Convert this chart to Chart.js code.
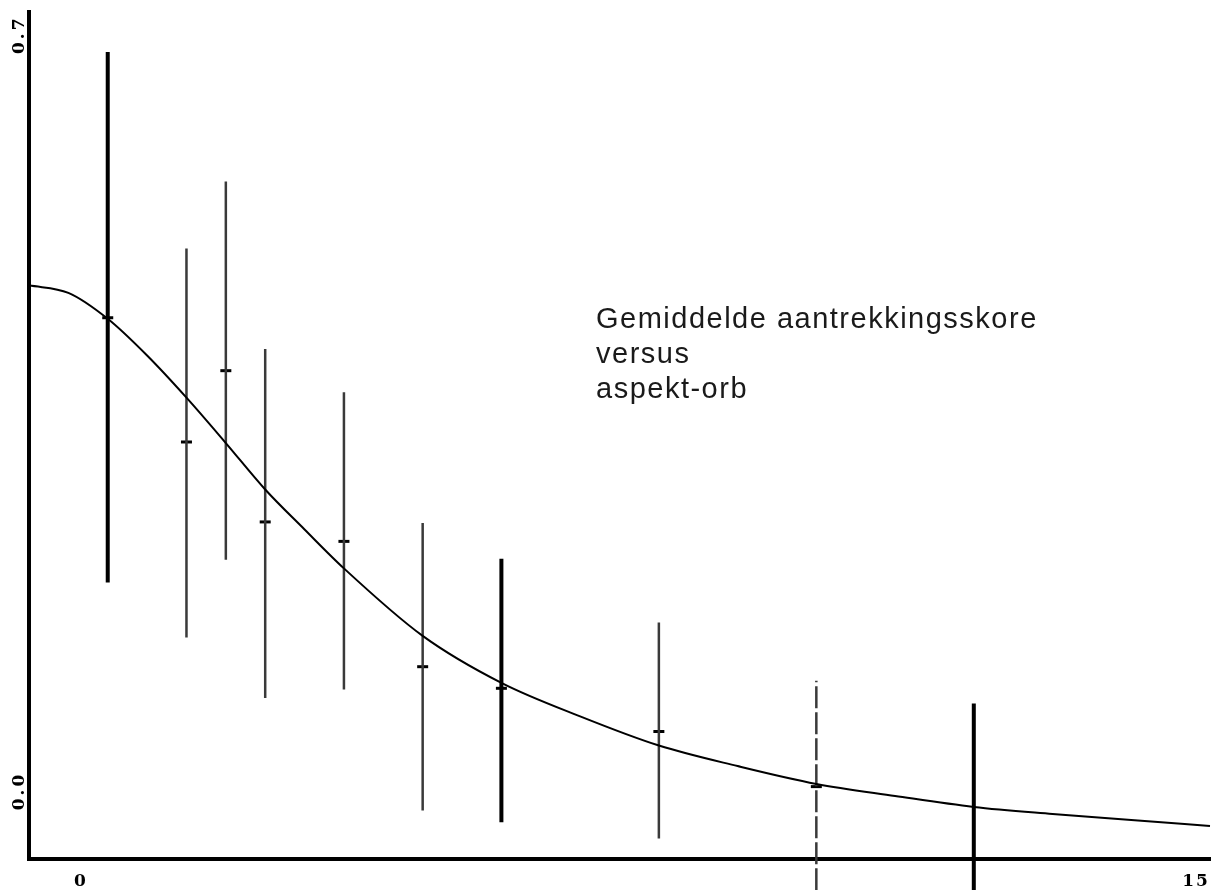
<!DOCTYPE html>
<html>
<head>
<meta charset="utf-8">
<script src="https://cdn.jsdelivr.net/npm/chart.js@4/dist/chart.umd.min.js"></script>
<style>
  html, body { margin: 0; padding: 0; background: #fff; overflow: hidden; }
  #wrap { width: 1212px; height: 890px; position: absolute; left: 0; top: 0; }
</style>
</head>
<body>
<div id="wrap"><canvas id="chart"></canvas></div>
<script>
// Mean attraction score vs aspect orb

const xTickValues = [0, 15];
const xTickLabels = ["0", "15"];
const yTickValues = [0.7, 0.0];
const yTickLabels = ["0.7", "0.0"];

// fitted curve
const curveX = [0, 0.5, 1, 1.5, 2, 2.5, 3, 3.5, 4, 5, 6, 7, 8, 9, 10, 11, 12, 13, 14, 15];
const curveY = [0.468, 0.461, 0.437, 0.403, 0.364, 0.322, 0.279, 0.242, 0.206, 0.1435, 0.100,
  0.069, 0.042, 0.023, 0.0065, -0.0046, -0.0148, -0.0213, -0.0269, -0.0324];

// error bars
const barX = [1, 2, 2.5, 3, 4, 5, 6, 8, 10, 12];
const barLow = [0.193, 0.142, 0.214, 0.086, 0.094, -0.018, -0.029, -0.044, -0.092, -0.092];
const barHigh = [0.684, 0.502, 0.564, 0.409, 0.369, 0.248, 0.215, 0.156, 0.102, 0.081];
const barMean = [0.438, 0.323, 0.389, 0.249, 0.231, 0.115, 0.095, 0.055, 0.004, null];

const title = ["Gemiddelde aantrekkingsskore", "versus", "aspekt-orb"];

// which bars are drawn heavy / broken
const thickAt = [1, 6, 12];
const dashedAt = [10];

function segments(filter) {
  const pts = [];
  barX.forEach((x, i) => {
    if (!filter(x)) return;
    pts.push({ x: x, y: barLow[i] });
    pts.push({ x: x, y: barHigh[i] });
    pts.push({ x: x, y: null });
  });
  return pts;
}

const labelPlugin = {
  id: "labels",
  afterDraw(chart) {
    const ctx = chart.ctx;
    const xs = chart.scales.x;
    const ys = chart.scales.y;
    ctx.save();
    ctx.fillStyle = "#000";
    ctx.font = "bold 17px 'DejaVu Serif'";
    ctx.textBaseline = "middle";
    ctx.textAlign = "center";
    // x labels (shifted like the original)
    ctx.letterSpacing = "2px";
    ctx.fillText(xTickLabels[0], xs.getPixelForValue(xTickValues[0]) + 52, 882);
    ctx.fillText(xTickLabels[1], xs.getPixelForValue(xTickValues[1]) - 14, 882);
    // y labels, rotated
    ctx.letterSpacing = "3px";
    yTickValues.forEach((v, i) => {
      ctx.save();
      ctx.translate(20, ys.getPixelForValue(v));
      ctx.rotate(-Math.PI / 2);
      ctx.fillText(yTickLabels[i], 0, 0);
      ctx.restore();
    });
    // annotation
    ctx.font = "29px 'Liberation Sans'";
    ctx.letterSpacing = "1.5px";
    ctx.fillStyle = "#1a1a1a";
    ctx.textAlign = "left";
    ctx.textBaseline = "alphabetic";
    title.forEach((line, i) => {
      ctx.fillText(line, 596, 328 + i * 35);
    });
    ctx.restore();
  },
};

new Chart(document.getElementById("chart"), {
  type: "line",
  data: {
    datasets: [
      {
        label: "curve",
        data: curveX.map((x, i) => ({ x: x, y: curveY[i] })),
        borderColor: "#000",
        borderWidth: 2,
        pointRadius: 0,
        cubicInterpolationMode: "monotone",
        clip: false,
      },
      {
        label: "thin bars",
        data: segments((x) => !thickAt.includes(x) && !dashedAt.includes(x)),
        borderColor: "#3a3a3a",
        borderWidth: 2.5,
        pointRadius: 0,
        spanGaps: false,
        clip: false,
      },
      {
        label: "dashed bars",
        data: segments((x) => dashedAt.includes(x)),
        borderColor: "#3a3a3a",
        borderWidth: 2.5,
        borderDash: [22, 4],
        pointRadius: 0,
        spanGaps: false,
        clip: false,
      },
      {
        label: "thick bars",
        data: segments((x) => thickAt.includes(x)),
        borderColor: "#000",
        borderWidth: 4,
        pointRadius: 0,
        spanGaps: false,
        clip: false,
      },
      {
        label: "means",
        data: barX.map((x, i) => ({ x: x, y: barMean[i] })).filter((p) => p.y !== null),
        showLine: false,
        pointStyle: "line",
        pointRadius: 5.5,
        borderColor: "#000",
        borderWidth: 3,
        clip: false,
      },
    ],
  },
  options: {
    responsive: true,
    maintainAspectRatio: false,
    animation: false,
    layout: { autoPadding: false, padding: { left: 29, top: 12, right: 2, bottom: 31 } },
    plugins: {
      legend: { display: false },
      tooltip: { enabled: false },
    },
    scales: {
      x: {
        type: "linear",
        min: 0,
        max: 15,
        ticks: { display: false },
        grid: { display: false, drawTicks: false },
        border: { display: true, color: "#000", width: 4 },
      },
      y: {
        type: "linear",
        min: -0.063,
        max: 0.721,
        ticks: { display: false },
        grid: { display: false, drawTicks: false },
        border: { display: true, color: "#000", width: 4 },
      },
    },
  },
  plugins: [labelPlugin],
});
</script>
</body>
</html>
